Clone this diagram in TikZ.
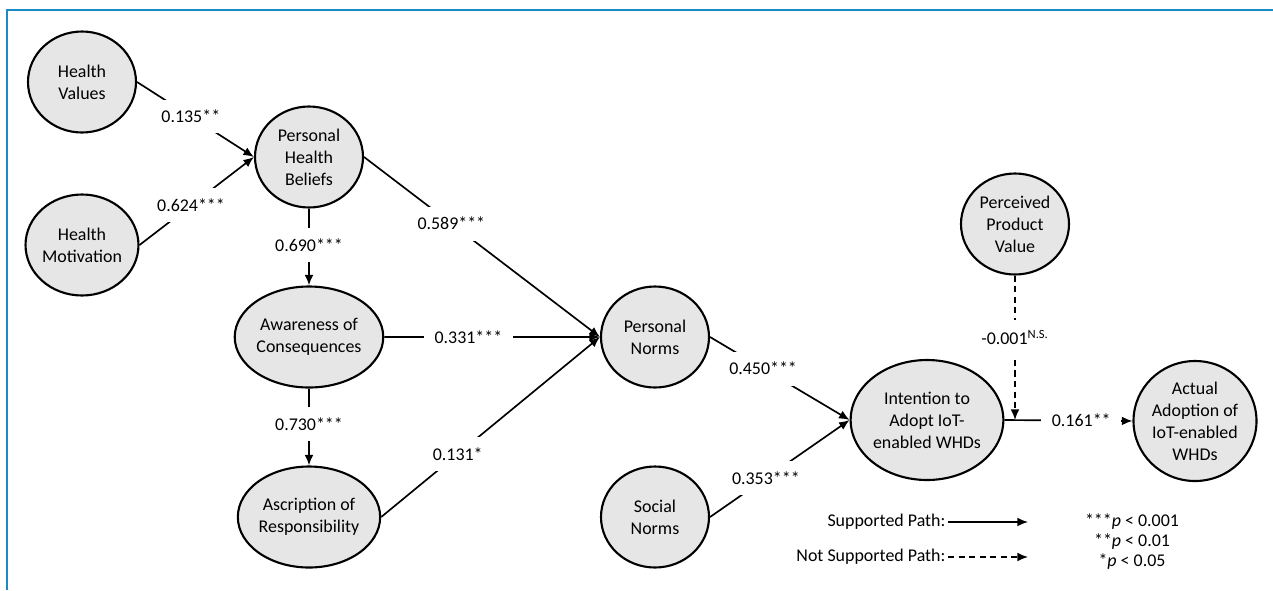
\documentclass[tikz,border=0pt]{standalone}
\usepackage{amsmath}
\usepackage{fontspec}
\setmainfont{Carlito}
\usepackage{tikz}
\usetikzlibrary{arrows.meta,shapes.geometric}

\definecolor{framebl}{HTML}{1B8AC6}
\definecolor{vargray}{HTML}{E6E6E6}

\begin{document}
\begin{tikzpicture}[->,>={Latex[length=6pt,width=5pt]},line width=0.95pt,node distance=3.6cm,
        var/.style={ellipse,draw,line width=1.2pt,fill=vargray,minimum width=2.16cm,
                    minimum height=2.02cm,inner sep=0pt,align=center},
        bigvar/.style={var,minimum width=2.46cm,minimum height=2.4cm},
        coef/.style={fill=white,inner sep=6pt},
        font=\fontsize{10.2}{12.5}\selectfont]

  \useasboundingbox (0,0) rectangle (25.46,-11.8);
  \draw[-,framebl,line width=1.7pt] (25.46,-0.2) -- (0.14,-0.2) -- (0.14,-11.8);

  \node[var] (hv) at (1.64,-1.64) {Health\\Values};
  \node[var] (hm) at (1.64,-4.9) {Health\\Motivation};
  \node[var] (phb) at (6.18,-3.14) {Personal\\Health\\Beliefs};
  \node[var] (ac) [below of=phb] {Awareness of\\Consequences};
  \node[var] (ar) [below of=ac] {Ascription of\\Responsibility};
  \node[var] (pn) at (13.1,-6.74) {Personal\\Norms};
  \node[var] (sn) [below of=pn] {Social\\Norms};
  \node[bigvar] (int) at (18.54,-8.4) {Intention to\\Adopt IoT-\\enabled WHDs};
  \node[var] (ppv) at (20.3,-4.48) {Perceived\\Product\\Value};
  \node[bigvar] (aa) at (23.9,-8.42) {Actual\\Adoption of\\IoT-enabled\\WHDs};

  \coordinate (mod) at (ppv.south |- int.east);

  \path (hv.east)  edge node[coef,pos=.46] {0.135**} (phb.west)
        (hm.east)  edge node[coef,pos=.45] {0.624***} (phb.west)
        (phb.south) edge node[coef,pos=.48] {0.690***} (ac.north)
        (ac.south) edge node[coef,pos=.46] {0.730***} (ar.north)
        (phb.east) edge node[coef,pos=.37] {0.589***} (pn.west)
        (ac.east)  edge node[coef,pos=.39] {0.331***} (pn.west)
        (ar.east)  edge node[coef,pos=.35] {0.131*} (pn.west)
        (pn.east)  edge node[coef,pos=.38] {0.450***} (int.west)
        (sn.east)  edge node[coef,pos=.4] {0.353***} (int.west)
        (int.east) edge node[coef,pos=.6] {0.161**} (aa.west)
        (ppv.south) edge[dashed,dash pattern=on 3.5pt off 2.5pt]
                   node[coef,pos=.43] {-0.001\textsuperscript{N.S.}} (mod);

  % legend
  \node[anchor=east,inner sep=1pt] (legsup) at (18.96,-10.44) {Supported Path:};
  \node[anchor=east,inner sep=1pt] (legnot) at (18.96,-11.14) {Not Supported Path:};
  \coordinate (supend) at (20.56,-10.44);
  \coordinate (notend) at (20.56,-11.14);
  \draw (legsup.east) -- (supend);
  \draw[dashed,dash pattern=on 3.5pt off 2.5pt] (legnot.east) -- (notend);

  \node (p3) at (22.64,-10.44) {***\textit{p} < 0.001};
  \node (p2) at (22.64,-10.84) {**\textit{p} < 0.01};
  \node (p1) at (22.64,-11.24) {*\textit{p} < 0.05};

\end{tikzpicture}
\end{document}
